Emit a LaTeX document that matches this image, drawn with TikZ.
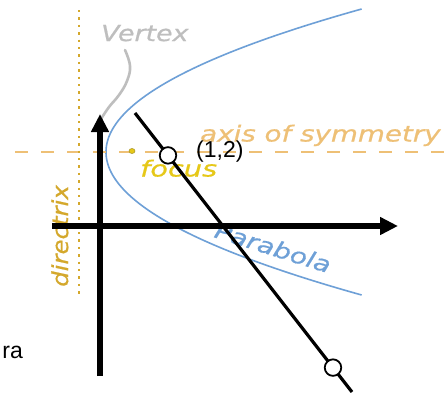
\documentclass[tikz,border=0pt]{standalone}
\usepackage{fontspec}
\setmainfont{Liberation Sans}
\newfontfamily\handfont{DejaVu Sans}[ItalicFeatures={FakeBold=0.6}]
\usetikzlibrary{arrows.meta,shapes.geometric}
\definecolor{parab}{RGB}{110,160,215}
\definecolor{axisorange}{RGB}{238,192,118}
\definecolor{dirgold}{RGB}{212,168,44}
\definecolor{focusyellow}{RGB}{230,200,24}
\definecolor{focusedge}{RGB}{170,150,40}
\definecolor{vertgray}{RGB}{190,190,190}
\begin{document}
\begin{tikzpicture}[x=1pt,y=-1pt,
  hand/.style={inner sep=0pt, font=\handfont\itshape\fontsize{22}{26}\selectfont},
  lbl/.style={inner sep=0pt, font=\fontsize{23}{27}\selectfont},
  axisarrow/.style={line width=5.5pt, -{Triangle[length=18pt,width=17pt]}},
  segline/.style={line width=3.2pt},
  ptcircle/.style={circle, draw=black, fill=white, line width=1.8pt, minimum size=16.5pt, inner sep=0pt},
  parabstyle/.style={draw=parab, line width=1.6pt},
  symaxis/.style={draw=axisorange, line width=2pt, dash pattern=on 13pt off 13pt},
  dirline/.style={draw=dirgold, line width=2.4pt, dash pattern=on 2.4pt off 5pt},
  vertexcurve/.style={draw=vertgray, line width=2.6pt, line cap=round}
]
\useasboundingbox (0,0) rectangle (445,392);
\fill[white] (0,0) rectangle (445,392);

% parabola
\draw[parabstyle] plot[domain=9:295, samples=120] ({106+1.25*((\x-152)/10)*((\x-152)/10)}, \x);

% axis of symmetry
\coordinate (sa) at (15,152);
\coordinate (sb) at (445,152);
\draw[symaxis] (sa) -- (sb);

% directrix
\coordinate (da) at (79,10);
\coordinate (db) at (79,297);
\draw[dirline] (da) -- (db);

% vertex pointer
\draw[vertexcurve] plot[smooth, tension=0.7] coordinates {(125,50) (130,66) (127,81) (119,95) (109,107) (101,119)};

% focus dot
\node[ellipse, draw=focusedge, fill=focusyellow, minimum width=6pt, minimum height=5pt, inner sep=0pt, line width=0.6pt] (fdot) at (132,151) {};

% labels of the background figure
\node[hand, text=vertgray, anchor=base west] (vtx) at (101,41) {\scalebox{1.22}[1]{Vertex}};
\node[hand, text=axisorange, anchor=base west] (aos) at (200,141.5) {\scalebox{1.26}[1]{axis of symmetry}};
\node[hand, text=focusyellow, anchor=base west] (foc) at (140,176.5) {\scalebox{1.31}[1]{focus}};
\node[hand, text=dirgold, anchor=base west, rotate=90] (dir) at (68,287) {\scalebox{1.11}[1]{directrix}};
\node[hand, text=parab, anchor=base west, rotate=-17.5] (par) at (213,237) {\scalebox{1.25}[1]{Parabola}};

% axes
\coordinate (vb) at (100,376);
\coordinate (vt) at (100,114);
\coordinate (hl) at (52,226);
\coordinate (hr) at (398,226);
\draw[axisarrow] (vb) -- (vt);
\draw[axisarrow] (hl) -- (hr);

% line with two points
\coordinate (ls) at (135,113);
\coordinate (le) at (352,392);
\draw[segline] (ls) -- (le);
\node[ptcircle] (p1) at (168,155.4) {};
\node[ptcircle] (p2) at (333,367.6) {};

% text labels
\node[lbl, anchor=base west] (pt) at (196,157) {(1,2)};
\node[lbl, anchor=base east] (ra) at (23,358) {ra};
\end{tikzpicture}
\end{document}
